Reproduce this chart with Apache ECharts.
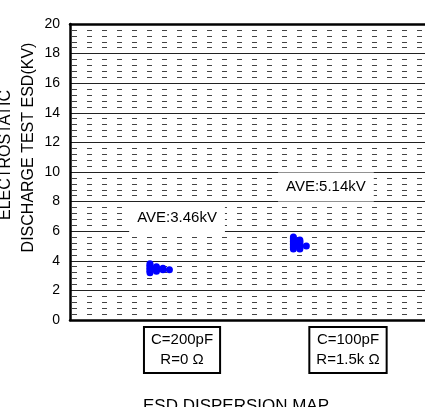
<!DOCTYPE html>
<html>
<head>
<meta charset="utf-8">
<script src="https://cdn.jsdelivr.net/npm/echarts@6/dist/echarts.min.js"></script>
<style>
html,body{margin:0;padding:0;background:#fff;}
#chart{width:425px;height:407px;}
</style>
</head>
<body>
<div id="chart"></div>
<script>
// ---- data ----
var categories = ['C=200pF\nR=0 Ω', 'C=100pF\nR=1.5k Ω'];
var group1Values = [3.2, 3.3, 3.4, 3.5, 3.6, 3.7, 3.8, 3.3, 3.4, 3.5, 3.6, 3.4, 3.5, 3.4];
var group2Values = [4.8, 4.9, 5.0, 5.1, 5.2, 5.3, 5.4, 5.5, 5.6, 4.8, 4.9, 5.0, 5.1, 5.2, 5.3, 5.4, 5.0];
var aveValues = [3.46, 5.14];
var yTicks = [0, 2, 4, 6, 8, 10, 12, 14, 16, 18, 20];
var yAxisTitle = ['ELECTROSTATIC', 'DISCHARGE TEST ESD(KV)'];
var chartTitle = 'ESD DISPERSION MAP';

// ---- layout ----
var FONT = 'Liberation Sans, Arial, Helvetica, sans-serif';
var xMin = 0.325, xMax = 2.464;
var groupStartX = [0.807, 1.671];
var dotStep = 0.039;
var aveLabelPos = [[0.97, 6.93], [1.867, 8.99]];

function dotPlot(values, startX) {
  var seen = {};
  return values.map(function (v) {
    var k = v.toFixed(2);
    var col = seen[k] || 0;
    seen[k] = col + 1;
    return [startX + col * dotStep, v];
  });
}

var chart = echarts.init(document.getElementById('chart'), null, {renderer: 'canvas'});

var aveMarks = aveValues.map(function (v, i) {
  return {
    coord: aveLabelPos[i],
    label: {formatter: 'AVE:' + v.toFixed(2) + 'kV'}
  };
});

var frameLine = {show: true, onZero: false, lineStyle: {color: '#000', width: 2.5}};

chart.setOption({
  animation: false,
  backgroundColor: '#fff',
  grid: {left: 70, top: 24, right: 0, bottom: 87},
  xAxis: [
    {
      type: 'value',
      min: xMin, max: xMax,
      axisLine: frameLine,
      axisTick: {show: false},
      splitLine: {show: false},
      axisLabel: {
        customValues: [1, 2],
        formatter: function (v) { return categories[Math.round(v) - 1] || ''; },
        margin: 7,
        fontFamily: FONT, fontSize: 15, color: '#000',
        lineHeight: 20,
        borderColor: '#000', borderWidth: 2,
        padding: [3, 7, 3, 7],
        align: 'center'
      }
    },
    {
      type: 'value', position: 'top',
      min: xMin, max: xMax,
      axisLine: frameLine,
      axisTick: {show: false},
      axisLabel: {show: false},
      splitLine: {show: false}
    }
  ],
  yAxis: {
    type: 'value',
    min: yTicks[0], max: yTicks[yTicks.length - 1], interval: 2,
    axisLine: frameLine,
    axisTick: {show: false},
    axisLabel: {margin: 10, fontFamily: FONT, fontSize: 14, color: '#000'},
    splitLine: {show: true, lineStyle: {color: '#222', width: 1}},
    minorTick: {show: false, splitNumber: 5},
    minorSplitLine: {show: true, lineStyle: {color: '#444', width: 1, type: [5, 10], dashOffset: -2}}
  },
  series: [
    {
      type: 'scatter',
      data: dotPlot(group1Values, groupStartX[0]),
      symbolSize: 7,
      itemStyle: {color: '#0000ff', opacity: 1},
      markPoint: {
        symbol: 'rect', symbolSize: 0,
        label: {
          show: true, position: 'inside',
          fontFamily: FONT, fontSize: 15, color: '#000',
          backgroundColor: '#fff', padding: [7, 8, 7, 8], lineHeight: 15
        },
        data: aveMarks
      }
    },
    {
      type: 'scatter',
      data: dotPlot(group2Values, groupStartX[1]),
      symbolSize: 7,
      itemStyle: {color: '#0000ff', opacity: 1}
    }
  ],
  graphic: [
    {
      type: 'text', x: 6, y: 155, rotation: Math.PI / 2,
      style: {text: yAxisTitle[0], font: '16px ' + FONT, fill: '#000', align: 'center', verticalAlign: 'middle'}
    },
    {
      type: 'text', x: 28.5, y: 147.5, rotation: Math.PI / 2,
      style: {text: yAxisTitle[1], font: '16px ' + FONT, fill: '#000', align: 'center', verticalAlign: 'middle'}
    },
    {
      type: 'text', x: 236, y: 398,
      style: {text: chartTitle, font: '17px ' + FONT, fill: '#000', align: 'center', verticalAlign: 'top'}
    }
  ]
});
</script>
</body>
</html>
